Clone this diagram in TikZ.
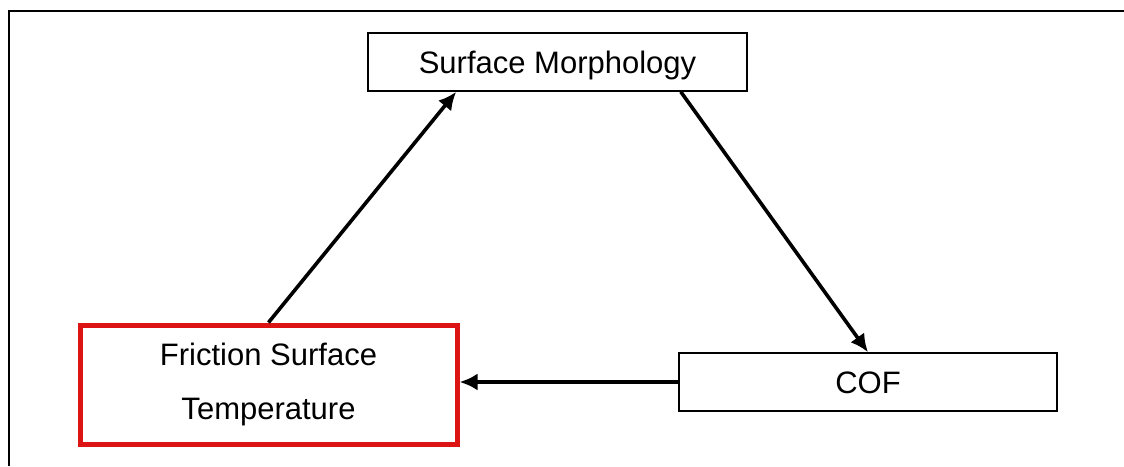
\documentclass[tikz,border=0pt]{standalone}
\usepackage{fontspec}
\setmainfont{Liberation Sans}
\usetikzlibrary{arrows.meta,calc}
\definecolor{boxred}{RGB}{221,20,20}
\begin{document}
\begin{tikzpicture}[x=1pt,y=-1pt,
  box/.style={draw=black,line width=1.6pt,inner sep=0pt,text height=22pt,text depth=0pt,font=\fontsize{31}{37}\selectfont},
  hotbox/.style={draw=boxred,line width=5pt,inner sep=0pt,align=center,font=\fontsize{31}{54}\selectfont},
  arr/.style={line width=3.6pt,-{Latex[length=18pt,width=17pt]}}]
\useasboundingbox (0,0) rectangle (1124,466);
\fill[white] (0,0) rectangle (1124,466);
\draw[line width=2.4pt] (9,466) -- (9,11) -- (1124,11);
\node[box,minimum width=379pt,minimum height=58pt] (sm) at (557.5,62) {Surface Morphology};
\node[box,minimum width=378pt,minimum height=58pt] (cof) at (868,382) {COF};
\node[hotbox,minimum width=377pt,minimum height=119pt] (fr) at (268.5,384.5) {Friction Surface\\Temperature};
\draw[arr] (fr.north) -- ($(sm.south west)+(89,0)$);
\draw[arr] ($(sm.south east)+(-67,0)$) -- (cof.north);
\draw[arr] (cof.west) -- (cof.west -| fr.east);
\end{tikzpicture}
\end{document}
